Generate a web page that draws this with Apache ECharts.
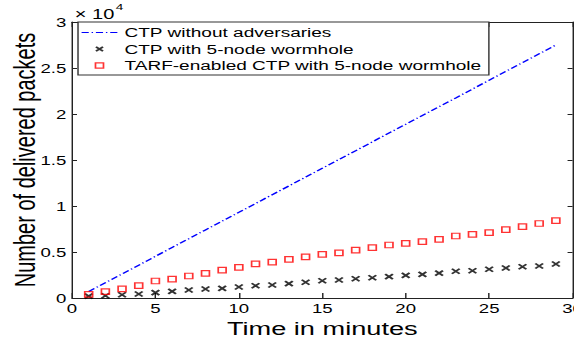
<!DOCTYPE html>
<html><head><meta charset="utf-8">
<script src="https://cdn.jsdelivr.net/npm/echarts@6/dist/echarts.min.js"></script>
<style>
html,body{margin:0;padding:0;background:#fff;overflow:hidden;width:574px;height:339px}
#c{width:401px;height:339px;transform:scaleX(1.4314);transform-origin:0 0;}
</style>
</head><body><div id="c"></div>
<script>
// Time in minutes
const minutes = [1,2,3,4,5,6,7,8,9,10,11,12,13,14,15,16,17,18,19,20,21,22,23,24,25,26,27,28,29];
// Number of delivered packets
const ctpNoAdversaries = [700,1660,2610,3570,4530,5490,6440,7400,8360,9310,10270,11230,12180,13140,14100,15060,16010,16970,17930,18880,19840,20800,21750,22710,23670,24630,25580,26540,27500];
const ctpWormhole = [200,250,350,430,580,720,870,980,1050,1200,1340,1410,1560,1720,1880,1960,2100,2200,2320,2460,2570,2700,2900,2970,3120,3260,3400,3480,3700];
const tarfWormhole = [400,700,1000,1340,1850,2060,2390,2680,3040,3330,3700,3900,4200,4470,4750,4900,5200,5470,5760,5940,6120,6380,6740,6920,7100,7430,7750,8100,8400];
const seriesNames = ['CTP without adversaries','CTP with 5-node wormhole','TARF-enabled CTP with 5-node wormhole'];
const xTickLabels = ['0','5','10','15','20','25','30'];
const yTickLabels = ['0','0.5','1','1.5','2','2.5','3'];

const FONT = "'Liberation Sans', Arial, sans-serif";
const AX = '#222';
const xPath = 'path://M0,0L10,10M10,0L0,10';
const xPathLegend = 'path://M0,0M1.5,2L8.5,8M8.5,2L1.5,8M10,10';
const squareLegend = 'path://M0,0M1,1.2h8v7.6h-8zM10,10';
const dashDotLegend = 'path://M0,0M25,7M0,2.9h5v1.2h-5zM7,2.9h1v1.2h-1zM10,2.9h5v1.2h-5zM17,2.9h1v1.2h-1zM20,2.9h5v1.2h-5z';

const chart = echarts.init(document.getElementById('c'), null, {renderer: 'svg'});
const pair = a => a.map((v, i) => [minutes[i], v]);

const xBase = {
  type: 'value', min: 0, max: 30, interval: 5,
  axisLine: {show: true, onZero: false, lineStyle: {color: AX, width: 1}},
  axisTick: {show: true, inside: true, length: 5, lineStyle: {color: AX}},
  splitLine: {show: false}
};
const yBase = {
  type: 'value', min: 0, max: 30000, interval: 5000,
  axisLine: {show: true, onZero: false, lineStyle: {color: AX, width: 1}},
  axisTick: {show: true, inside: true, length: 3.5, lineStyle: {color: AX}},
  splitLine: {show: false}
};

chart.setOption({
  animation: false,
  backgroundColor: '#fff',
  textStyle: {fontFamily: FONT},
  title: {
    show: true, left: 52.3, top: 1, padding: 0,
    text: '{a|× 10}{b|4}',
    textStyle: {fontWeight: 'normal', rich: {
      a: {fontFamily: FONT, fontSize: 14, fontWeight: 'normal', color: '#000', padding: [6, 0, 0, 0]},
      b: {fontFamily: FONT, fontSize: 9.5, fontWeight: 'normal', color: '#000', verticalAlign: 'top', padding: [0, 0, 6, 1]}
    }}
  },
  grid: {left: 50.3, right: 1, top: 22, bottom: 41, containLabel: false, outerBoundsMode: 'none'},
  legend: {
    show: true, orient: 'vertical', left: 54.5, top: 22,
    backgroundColor: '#fff', borderColor: '#333', borderWidth: 1,
    padding: [4, 5, 3, 2.5], itemGap: 3.5, itemWidth: 25, itemHeight: 7,
    textStyle: {fontFamily: FONT, fontSize: 13.3, color: '#000'},
    data: [
      {name: seriesNames[0], icon: dashDotLegend, itemStyle: {color: '#0000ff', borderWidth: 0}},
      {name: seriesNames[1], icon: xPathLegend, itemStyle: {borderWidth: 1.6}},
      {name: seriesNames[2], icon: squareLegend, itemStyle: {borderWidth: 1.2}}
    ]
  },
  xAxis: [
    Object.assign({}, xBase, {
      position: 'bottom',
      name: 'Time in minutes', nameLocation: 'middle', nameGap: 21, nameMoveOverlap: false,
      nameTextStyle: {fontFamily: FONT, fontSize: 19, color: '#000', verticalAlign: 'top'},
      axisLabel: {show: true, margin: 4, fontSize: 13, color: '#000', fontFamily: FONT,
        formatter: v => xTickLabels[Math.round(v / 5)]}
    }),
    Object.assign({}, xBase, {position: 'top', axisLabel: {show: false}})
  ],
  yAxis: [
    Object.assign({}, yBase, {
      position: 'left',
      name: 'Number of delivered packets', nameLocation: 'middle', nameGap: 23, nameMoveOverlap: false,
      nameTextStyle: {fontFamily: FONT, fontSize: 20, color: '#000'},
      axisLabel: {show: true, margin: 4, fontSize: 13, color: '#000', fontFamily: FONT,
        formatter: v => yTickLabels[Math.round(v / 5000)]}
    }),
    Object.assign({}, yBase, {position: 'right', axisLabel: {show: false}})
  ],
  series: [
    {
      name: seriesNames[0], type: 'line', xAxisIndex: 0, yAxisIndex: 0,
      data: pair(ctpNoAdversaries), symbol: 'none', showSymbol: false,
      lineStyle: {color: '#0000ff', width: 1.3, type: [5, 2, 1, 2]},
      itemStyle: {color: '#0000ff'}, z: 3
    },
    {
      name: seriesNames[1], type: 'scatter', xAxisIndex: 0, yAxisIndex: 0,
      data: pair(ctpWormhole), symbol: xPath, symbolSize: [5.4, 5],
      itemStyle: {color: 'rgba(0,0,0,0)', borderColor: '#000', borderWidth: 1.6}, z: 4
    },
    {
      name: seriesNames[2], type: 'scatter', xAxisIndex: 0, yAxisIndex: 0,
      data: pair(tarfWormhole), symbol: 'rect', symbolSize: [5.5, 5.5],
      itemStyle: {color: 'rgba(0,0,0,0)', borderColor: '#ff0000', borderWidth: 1.2}, z: 5
    }
  ]
});
</script>
</body></html>
